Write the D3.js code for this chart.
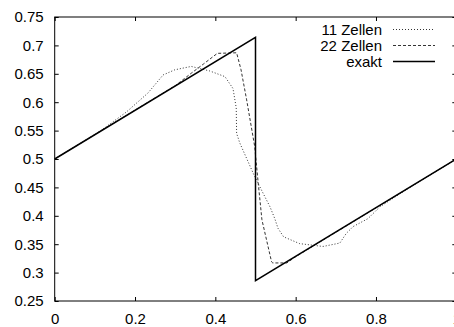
<!DOCTYPE html>
<html>
<head>
<meta charset="utf-8">
<script src="https://cdn.jsdelivr.net/npm/d3@7"></script>
<style>
  body { margin: 0; background: #fff; }
  text { font-family: "Liberation Sans", Arial, sans-serif; font-size: 15px; fill: #000; }
</style>
</head>
<body>
<div id="chart"></div>
<script>
    var width = 454;
    var height = 327;

    // frame; right edge lies just outside the window
    var frameLeft = 54.7, frameRight = 456.3, frameTop = 17, frameBottom = 301;

    var xTicks = [0, 0.2, 0.4, 0.6, 0.8, 1];
    var yTicks = [0.25, 0.3, 0.35, 0.4, 0.45, 0.5, 0.55, 0.6, 0.65, 0.7, 0.75];

    var seriesNames = ["11 Zellen", "22 Zellen", "exakt"];

    // 11 cells
    var zellen11 = [
      [0, 0.5], [0.05, 0.5215], [0.1, 0.543], [0.117, 0.551], [0.179, 0.583],
      [0.232, 0.616], [0.27, 0.648], [0.299, 0.657], [0.34, 0.663], [0.386, 0.655],
      [0.424, 0.645], [0.444, 0.624], [0.452, 0.59], [0.453, 0.545], [0.461, 0.528],
      [0.498, 0.469], [0.523, 0.434], [0.536, 0.416], [0.548, 0.395], [0.556, 0.378],
      [0.57, 0.363], [0.61, 0.351], [0.668, 0.346], [0.71, 0.352], [0.726, 0.369],
      [0.743, 0.381], [0.78, 0.395], [0.81, 0.416], [0.9, 0.457], [1, 0.5]
    ];

    // 22 cells
    var zellen22 = [
      [0, 0.5], [0.1, 0.543], [0.2, 0.586], [0.3, 0.629], [0.34, 0.651],
      [0.37, 0.667], [0.405, 0.686], [0.453, 0.687], [0.464, 0.657], [0.478, 0.604],
      [0.498, 0.522], [0.506, 0.463], [0.516, 0.393], [0.54, 0.319], [0.543, 0.317],
      [0.578, 0.317], [0.6, 0.328], [0.65, 0.3495], [0.7, 0.371], [0.8, 0.414],
      [0.9, 0.457], [1, 0.5]
    ];

    // exact sawtooth
    var exakt = [[0, 0.5], [0.5, 0.714], [0.5, 0.286], [1, 0.5]];

    var x = d3.scaleLinear().domain([0, 1]).range([frameLeft, frameRight]);
    var y = d3.scaleLinear().domain([0.25, 0.75]).range([frameBottom, frameTop]);

    var svg = d3.select("#chart")
                .append("svg")
                .attr("width", width)
                .attr("height", height);

    var line = d3.line()
                 .x(function(d) { return x(d[0]); })
                 .y(function(d) { return y(d[1]); });

    // axes with inward ticks, mirrored on the opposite sides
    var axisStyle = function(g) {
       g.select(".domain").remove();
       g.selectAll(".tick line").attr("stroke", "#000");
    };

    svg.append("g")
       .attr("transform", "translate(0," + frameBottom + ")")
       .call(d3.axisBottom(x).tickValues(xTicks).tickSize(-4).tickPadding(12)
               .tickFormat(d3.format("")))
       .call(axisStyle);
    svg.append("g")
       .attr("transform", "translate(0," + frameTop + ")")
       .call(d3.axisTop(x).tickValues(xTicks).tickSize(-4).tickFormat(""))
       .call(axisStyle);
    svg.append("g")
       .attr("transform", "translate(" + frameLeft + ",0)")
       .call(d3.axisLeft(y).tickValues(yTicks).tickSize(-4).tickPadding(11)
               .tickFormat(d3.format("")))
       .call(axisStyle);
    svg.append("g")
       .attr("transform", "translate(" + frameRight + ",0)")
       .call(d3.axisRight(y).tickValues(yTicks).tickSize(-4).tickFormat(""))
       .call(axisStyle);

    svg.selectAll(".tick text")
       .attr("font-family", "Liberation Sans, Arial, sans-serif")
       .attr("font-size", 15)
       .attr("fill", "#000");

    svg.append("rect")
       .attr("x", frameLeft).attr("y", frameTop)
       .attr("width", frameRight - frameLeft).attr("height", frameBottom - frameTop)
       .attr("fill", "none").attr("stroke", "#000").attr("stroke-width", 1);

    var styles = [
      { data: zellen11, dash: "1,2", width: 1, color: "#333" },
      { data: zellen22, dash: "3,2", width: 1, color: "#333" },
      { data: exakt, dash: null, width: 1.5, color: "#000" }
    ];

    for (var idx = 0; idx < styles.length; idx++) {
       var s = styles[idx];
       svg.append("path")
          .datum(s.data)
          .attr("d", line)
          .attr("fill", "none")
          .attr("stroke", s.color)
          .attr("stroke-width", s.width)
          .attr("stroke-dasharray", s.dash);

       // legend entry
       var ly = 29.5 + idx * 16;
       svg.append("text")
          .attr("x", 382)
          .attr("y", ly + 5)
          .attr("text-anchor", "end")
          .text(seriesNames[idx]);
       svg.append("line")
          .attr("x1", 393).attr("x2", 435)
          .attr("y1", ly).attr("y2", ly)
          .attr("stroke", s.color)
          .attr("stroke-width", s.width)
          .attr("stroke-dasharray", s.dash);
    }
</script>
</body>
</html>
